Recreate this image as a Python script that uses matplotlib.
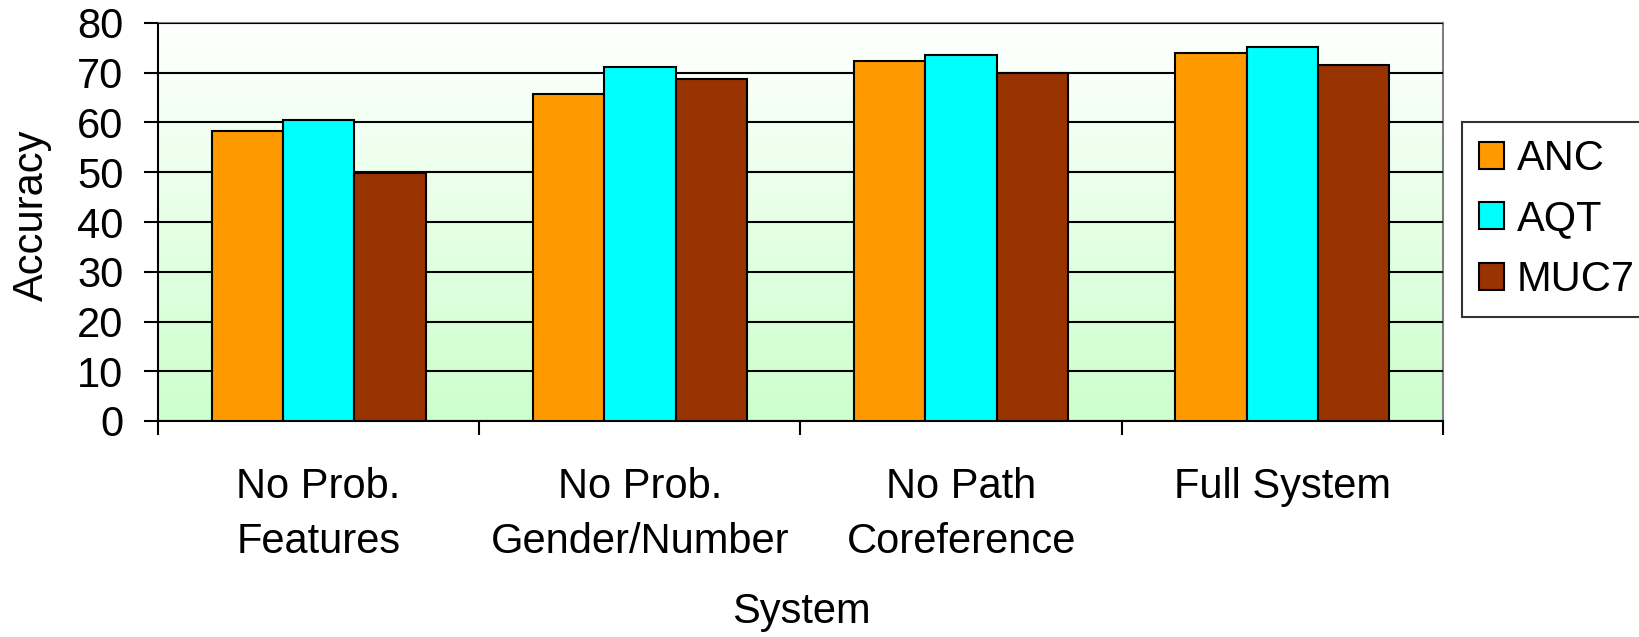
import numpy as np
import matplotlib
matplotlib.use("Agg")
import matplotlib.pyplot as plt
from matplotlib.colors import LinearSegmentedColormap

# Data
systems = ["No Prob.\nFeatures", "No Prob.\nGender/Number", "No Path\nCoreference", "Full System"]
series_names = ["ANC", "AQT", "MUC7"]
anc = [58.2, 65.8, 72.3, 73.9]
aqt = [60.6, 71.1, 73.5, 75.1]
muc7 = [49.8, 68.7, 69.9, 71.5]
colors = ["#FF9900", "#00FFFF", "#993300"]
yticks = [0, 10, 20, 30, 40, 50, 60, 70, 80]

plt.rcParams['font.family'] = ['Liberation Sans', 'DejaVu Sans']
fs = 30

W, H = 1640, 637
fig = plt.figure(figsize=(W / 100, H / 100), dpi=100)
# axes box in pixels: left 158, right 1443, top 23, bottom 421
ax = fig.add_axes([158 / W, 1 - 421 / H, (1443 - 158) / W, (421 - 23) / H])

# green-to-white gradient behind the bars
grad = np.linspace(0, 1, 256).reshape(-1, 1)
cmap = LinearSegmentedColormap.from_list("bg", ["#CCFFCC", "#FFFFFF"])
ax.imshow(grad, cmap=cmap, origin="lower", aspect="auto",
          extent=(-0.5, 3.5, 0, 80), zorder=0)

x = np.arange(len(systems))
bw = 1 / 4.5
for i, (vals, name) in enumerate(zip([anc, aqt, muc7], series_names)):
    ax.bar(x + (i - 1) * bw, vals, width=bw, color=colors[i], edgecolor="black",
           linewidth=1.5, label=name, zorder=3)

ax.set_xlim(-0.5, 3.5)
ax.set_ylim(0, 80)
ax.set_yticks(yticks)
ax.yaxis.grid(True, color="black", linewidth=1.5)
ax.set_axisbelow(False)
for gl in ax.get_ygridlines():
    gl.set_zorder(1)

# category boundaries get the tick marks, names sit between them
ax.set_xticks(np.arange(-0.5, 4, 1))
ax.set_xticklabels([])
ax.set_xticks(x, minor=True)
ax.set_xticklabels(systems, minor=True, fontsize=fs, linespacing=1.5, va="top")
ax.tick_params(axis="x", which="major", length=10, width=1.5, direction="out")
ax.tick_params(axis="x", which="minor", length=0, pad=33)
ax.tick_params(axis="y", length=10, width=1.5, direction="out", labelsize=fs, pad=15)

for s in ["top", "right"]:
    ax.spines[s].set_color("#808080")
    ax.spines[s].set_linewidth(1.5)
for s in ["left", "bottom"]:
    ax.spines[s].set_color("black")
    ax.spines[s].set_linewidth(1.5)

fig.text(32 / W, 1 - 215 / H, "Accuracy", rotation=90, fontsize=fs,
         ha="center", va="center")
fig.text(801 / W, 1 - 612 / H, "System", fontsize=fs, ha="center", va="center")

leg = ax.legend(loc="upper left", bbox_to_anchor=(1462 / W, 1 - 122 / H),
                bbox_transform=fig.transFigure, fontsize=fs, frameon=True,
                fancybox=False, handlelength=0.62, handleheight=0.62,
                handletextpad=0.3, labelspacing=0.5, borderpad=0.4,
                borderaxespad=0)
leg.get_frame().set_edgecolor("black")
leg.get_frame().set_linewidth(1.5)

fig.savefig("out.png", dpi=100)
